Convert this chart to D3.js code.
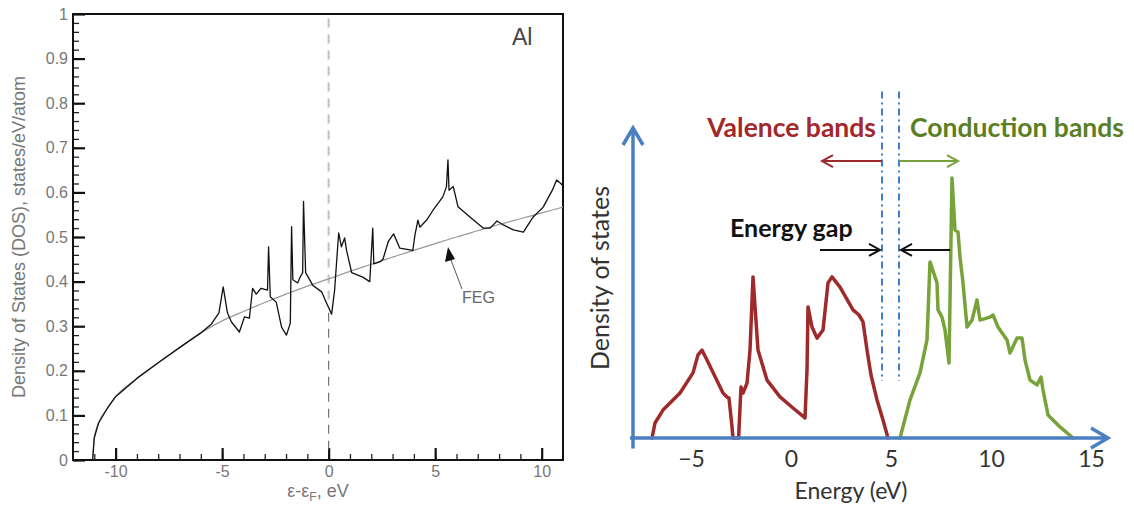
<!DOCTYPE html>
<html>
<head>
<meta charset="utf-8">
<script src="https://cdn.jsdelivr.net/npm/d3@7"></script>
<style>
  body { margin: 0; background: #fff; }
</style>
</head>
<body>
<div id="chart"></div>
<script>
  // ---- left panel: Al density of states, eV from the Fermi level ----
  var alDos = [
    [-11.08, 0], [-11.0, 0.05], [-10.8, 0.083], [-10.4, 0.115], [-10, 0.142], [-9, 0.183],
    [-8, 0.218], [-7, 0.252], [-6, 0.285], [-5.5, 0.305], [-5.15, 0.33], [-4.95, 0.388],
    [-4.75, 0.33], [-4.57, 0.31], [-4.19, 0.287], [-3.95, 0.321], [-3.72, 0.318], [-3.57, 0.385],
    [-3.4, 0.372], [-3.17, 0.385], [-2.87, 0.381], [-2.82, 0.478], [-2.74, 0.366], [-2.46, 0.354],
    [-2.21, 0.298], [-1.98, 0.28], [-1.8, 0.307], [-1.74, 0.523], [-1.68, 0.404], [-1.45, 0.397],
    [-1.36, 0.408], [-1.22, 0.42], [-1.18, 0.58], [-1.08, 0.42], [-0.75, 0.392], [-0.33, 0.377],
    [-0.1, 0.352], [0.14, 0.327], [0.28, 0.381], [0.47, 0.509], [0.6, 0.478], [0.75, 0.498],
    [0.84, 0.47], [1.08, 0.42], [1.6, 0.41], [1.93, 0.4], [2.07, 0.52], [2.12, 0.44],
    [2.4, 0.444], [2.55, 0.45], [2.8, 0.49], [3.05, 0.507], [3.34, 0.475], [3.95, 0.47],
    [4.05, 0.504], [4.19, 0.538], [4.28, 0.522], [4.6, 0.538], [4.9, 0.56], [5.36, 0.59],
    [5.53, 0.613], [5.6, 0.673], [5.65, 0.605], [5.85, 0.613], [6.07, 0.568], [6.63, 0.545],
    [7.25, 0.52], [7.58, 0.52], [7.9, 0.536], [8.2, 0.527], [8.67, 0.516], [9.14, 0.511],
    [9.6, 0.545], [10.07, 0.567], [10.5, 0.605], [10.7, 0.628], [10.87, 0.621], [11, 0.615]
  ];
  var alFeg = [
    [-11.08, 0], [-11.0, 0.05], [-10.8, 0.083], [-10.4, 0.115], [-10, 0.142], [-9, 0.183],
    [-8, 0.218], [-7, 0.252], [-6, 0.285], [-5, 0.312], [-4, 0.333], [-3, 0.353], [-2, 0.372],
    [-1, 0.39], [0, 0.406], [1, 0.423], [2, 0.439], [3, 0.455], [4, 0.47], [5, 0.485],
    [6, 0.5], [7, 0.514], [8, 0.528], [9, 0.541], [10, 0.554], [11, 0.567]
  ];
  var alXTicks = [-10, -5, 0, 5, 10];
  var alYTicks = [0, 0.1, 0.2, 0.3, 0.4, 0.5, 0.6, 0.7, 0.8, 0.9, 1];

  // ---- right panel: schematic DOS of a semiconductor ----
  var valence = [
    [-6.95, 0], [-6.8, 0.5], [-6.4, 0.93], [-5.55, 1.5], [-4.9, 2.17], [-4.65, 2.77],
    [-4.45, 2.93], [-4.2, 2.6], [-3.4, 1.5], [-3.2, 1.37], [-3.1, 1.33], [-2.95, 0.37],
    [-2.9, 0], [-2.62, 0], [-2.5, 1.7], [-2.4, 1.5], [-2.2, 1.83], [-2.05, 2.93],
    [-1.9, 5.37], [-1.65, 2.93], [-1.2, 1.93], [-0.55, 1.37], [0.1, 1.0], [0.7, 0.67],
    [0.8, 2.27], [0.85, 4.37], [1.05, 3.7], [1.3, 3.33], [1.6, 3.6], [1.85, 5.17],
    [2.05, 5.37], [2.45, 5.03], [3.1, 4.27], [3.4, 4.1], [3.6, 3.87], [3.8, 2.93],
    [4.0, 2.1], [4.3, 1.27], [4.6, 0.6], [4.85, 0]
  ];
  var conduction = [
    [5.45, 0], [5.95, 1.27], [6.45, 2.17], [6.8, 3.27], [6.95, 5.87], [7.3, 5.17],
    [7.35, 4.27], [7.55, 4.03], [7.7, 3.6], [7.9, 2.5], [8.05, 8.67], [8.2, 6.93],
    [8.35, 6.87], [8.45, 6.03], [8.6, 5.17], [8.8, 3.7], [9.05, 3.93], [9.3, 4.6],
    [9.45, 3.93], [9.95, 4.03], [10.1, 4.1], [10.35, 3.7], [10.8, 3.27], [10.95, 2.83],
    [11.3, 3.33], [11.55, 3.33], [11.7, 2.6], [11.95, 1.93], [12.3, 1.77], [12.5, 2.03],
    [12.6, 1.6], [12.85, 0.77], [13.45, 0.37], [14.1, 0]
  ];
  var energyTicks = [-5, 0, 5, 10, 15];
  var gapEdges = [4.55, 5.4];

  var svg = d3.select("#chart").append("svg")
    .attr("width", 1134)
    .attr("height", 506)
    .style("font-family", "'Liberation Sans', Arial, sans-serif");

  // ================= left panel =================
  var L = { left: 73, top: 14, right: 563, bottom: 460 };
  var xL = d3.scaleLinear().domain([-12, 11]).range([L.left, L.right]);
  var yL = d3.scaleLinear().domain([0, 1]).range([L.bottom, L.top]);

  svg.append("defs").append("clipPath").attr("id", "clipL")
    .append("rect")
    .attr("x", L.left).attr("y", L.top)
    .attr("width", L.right - L.left).attr("height", L.bottom - L.top);

  // minor ticks first, then major ones with labels
  svg.append("g")
    .attr("transform", `translate(0, ${L.bottom})`)
    .call(d3.axisBottom(xL).tickValues(d3.range(-11, 11)).tickSize(-6).tickFormat(""))
    .call(g => g.select(".domain").remove())
    .selectAll("line").attr("stroke", "#222").attr("stroke-width", 1.3);

  svg.append("g")
    .attr("transform", `translate(${L.left}, 0)`)
    .call(d3.axisLeft(yL).tickValues(d3.range(0, 50).map(i => i * 0.02)).tickSize(-6).tickFormat(""))
    .call(g => g.select(".domain").remove())
    .selectAll("line").attr("stroke", "#222").attr("stroke-width", 1.3);

  var xAxisL = svg.append("g")
    .attr("transform", `translate(0, ${L.bottom})`)
    .call(d3.axisBottom(xL).tickValues(alXTicks).tickSize(-12).tickPadding(6).tickFormat(d3.format("d")));
  xAxisL.select(".domain").remove();
  xAxisL.selectAll("line").attr("stroke", "#111").attr("stroke-width", 2.2);
  xAxisL.selectAll("text").attr("fill", "#777").style("font-size", "16px")
    .style("font-family", "'Liberation Sans', Arial, sans-serif")
    .text(d => d < 0 ? "-" + Math.abs(d) : d);

  var yAxisL = svg.append("g")
    .attr("transform", `translate(${L.left}, 0)`)
    .call(d3.axisLeft(yL).tickValues(alYTicks).tickSize(-12).tickPadding(5).tickFormat(d3.format("~g")));
  yAxisL.select(".domain").remove();
  yAxisL.selectAll("line").attr("stroke", "#111").attr("stroke-width", 2.2);
  yAxisL.selectAll("text").attr("fill", "#777").style("font-size", "16px")
    .style("font-family", "'Liberation Sans', Arial, sans-serif");

  // frame
  svg.append("rect")
    .attr("x", L.left).attr("y", L.top)
    .attr("width", L.right - L.left).attr("height", L.bottom - L.top)
    .attr("fill", "none").attr("stroke", "#111").attr("stroke-width", 2);

  // Fermi level
  svg.append("line")
    .attr("x1", xL(0)).attr("x2", xL(0))
    .attr("y1", yL(0.99)).attr("y2", yL(0.35))
    .attr("stroke", "#c4c4c4").attr("stroke-width", 2.2)
    .attr("stroke-dasharray", "9,7");
  svg.append("line")
    .attr("x1", xL(0)).attr("x2", xL(0))
    .attr("y1", yL(0.33)).attr("y2", yL(0.01))
    .attr("stroke", "#666").attr("stroke-width", 1.1)
    .attr("stroke-dasharray", "9,7");

  var lineL = d3.line().x(d => xL(d[0])).y(d => yL(d[1]));

  svg.append("path")
    .datum(alFeg)
    .attr("clip-path", "url(#clipL)")
    .attr("d", lineL.curve(d3.curveMonotoneX))
    .attr("fill", "none").attr("stroke", "#999").attr("stroke-width", 1.2);

  svg.append("path")
    .datum(alDos)
    .attr("clip-path", "url(#clipL)")
    .attr("d", lineL.curve(d3.curveLinear))
    .attr("fill", "none").attr("stroke", "#111").attr("stroke-width", 1.3)
    .attr("stroke-linejoin", "round");

  // FEG label with arrow
  svg.append("line")
    .attr("x1", 451).attr("y1", 260).attr("x2", 462).attr("y2", 289)
    .attr("stroke", "#555").attr("stroke-width", 1);
  svg.append("path")
    .attr("d", "M448,247 L445,262 L455,259 Z")
    .attr("fill", "#111");
  svg.append("text")
    .attr("x", 462).attr("y", 303)
    .attr("fill", "#666").style("font-size", "16px")
    .text("FEG");

  svg.append("text")
    .attr("x", 512).attr("y", 45)
    .attr("fill", "#444").style("font-size", "23px")
    .text("Al");

  svg.append("text")
    .attr("transform", "translate(25, 237) rotate(-90)")
    .attr("text-anchor", "middle")
    .attr("fill", "#777").style("font-size", "18px")
    .text("Density of States (DOS), states/eV/atom");

  var xTitle = svg.append("text")
    .attr("x", 318).attr("y", 497)
    .attr("text-anchor", "middle")
    .attr("fill", "#777").style("font-size", "18px");
  xTitle.append("tspan").text("\u03b5-\u03b5");
  xTitle.append("tspan").attr("dy", 4).style("font-size", "12px").text("F");
  xTitle.append("tspan").attr("dy", -4).text(", eV");

  // ================= right panel =================
  var blue = "#4a7fc1";
  var red = "#9e2a2b";
  var green = "#77a33a";
  var font = "Lato, 'Open Sans', sans-serif";
  var xR = d3.scaleLinear().domain([-5, 15]).range([691, 1091]);
  var yR = d3.scaleLinear().domain([0, 10]).range([438, 138]);
  var axisX0 = 633;

  var lineR = d3.line().x(d => xR(d[0])).y(d => yR(d[1]));

  // gap edges (dash-dot)
  svg.selectAll("line.gap")
    .data(gapEdges)
    .enter().append("line")
    .attr("class", "gap")
    .attr("x1", d => xR(d)).attr("x2", d => xR(d))
    .attr("y1", yR(11.55)).attr("y2", yR(1.9))
    .attr("stroke", "#3d7fcc").attr("stroke-width", 2)
    .attr("stroke-dasharray", "7,4,2,4");

  svg.append("path")
    .datum(valence)
    .attr("d", lineR)
    .attr("fill", "none").attr("stroke", red).attr("stroke-width", 3.5)
    .attr("stroke-linejoin", "round").attr("stroke-linecap", "round");

  svg.append("path")
    .datum(conduction)
    .attr("d", lineR)
    .attr("fill", "none").attr("stroke", green).attr("stroke-width", 3.5)
    .attr("stroke-linejoin", "round").attr("stroke-linecap", "round");

  // axes with open arrowheads
  svg.append("line")
    .attr("x1", axisX0).attr("x2", axisX0)
    .attr("y1", yR(-0.35)).attr("y2", 129)
    .attr("stroke", blue).attr("stroke-width", 3.5);
  svg.append("path")
    .attr("d", `M${axisX0 - 10},${145} L${axisX0},${128} L${axisX0 + 10},${145}`)
    .attr("fill", "none").attr("stroke", blue).attr("stroke-width", 3.5)
    .attr("stroke-linejoin", "miter");

  svg.append("line")
    .attr("x1", axisX0 - 3).attr("x2", 1107)
    .attr("y1", yR(0)).attr("y2", yR(0))
    .attr("stroke", blue).attr("stroke-width", 3.5);
  svg.append("path")
    .attr("d", `M1091,${yR(0) - 10} L1108,${yR(0)} L1091,${yR(0) + 10}`)
    .attr("fill", "none").attr("stroke", blue).attr("stroke-width", 3.5);

  var xAxisR = svg.append("g")
    .attr("transform", `translate(0, ${yR(0)})`)
    .call(d3.axisBottom(xR).tickValues(energyTicks).tickSize(0).tickPadding(13));
  xAxisR.select(".domain").remove();
  xAxisR.selectAll("text").attr("fill", "#333").style("font-size", "23px")
    .style("font-family", font);

  svg.append("text")
    .attr("x", 851).attr("y", 499)
    .attr("text-anchor", "middle")
    .attr("fill", "#333").style("font-size", "23px")
    .style("font-family", font)
    .text("Energy (eV)");

  svg.append("text")
    .attr("transform", "translate(609, 278) rotate(-90)")
    .attr("text-anchor", "middle")
    .attr("fill", "#333").style("font-size", "25px")
    .style("font-family", font)
    .text("Density of states");

  // band labels and arrows
  function arrow(x1, x2, y, color) {
    var dir = x2 > x1 ? 1 : -1;
    svg.append("line")
      .attr("x1", x1).attr("x2", x2 - dir * 1).attr("y1", y).attr("y2", y)
      .attr("stroke", color).attr("stroke-width", 2);
    svg.append("path")
      .attr("d", `M${x2 - dir * 11},${y - 6} L${x2},${y} L${x2 - dir * 11},${y + 6}`)
      .attr("fill", "none").attr("stroke", color).attr("stroke-width", 2);
  }

  arrow(xR(gapEdges[0]), xR(1.55), yR(9.23), red);
  arrow(xR(gapEdges[1]), xR(8.35), yR(9.23), green);
  arrow(xR(1.45), xR(gapEdges[0]) - 2, yR(6.27), "#111");
  arrow(xR(7.95), xR(gapEdges[1]) + 2, yR(6.27), "#111");

  svg.append("text")
    .attr("x", 876).attr("y", 137)
    .attr("text-anchor", "end")
    .attr("fill", "#a3282b").style("font-size", "26.5px").style("font-weight", "bold")
    .style("font-family", font)
    .text("Valence bands");

  svg.append("text")
    .attr("x", 910).attr("y", 137)
    .attr("fill", "#5b7f24").style("font-size", "26.5px").style("font-weight", "bold")
    .style("font-family", font)
    .text("Conduction bands");

  svg.append("text")
    .attr("x", 730).attr("y", 237)
    .attr("fill", "#111").style("font-size", "25px").style("font-weight", "bold")
    .style("font-family", font)
    .text("Energy gap");
</script>
</body>
</html>
